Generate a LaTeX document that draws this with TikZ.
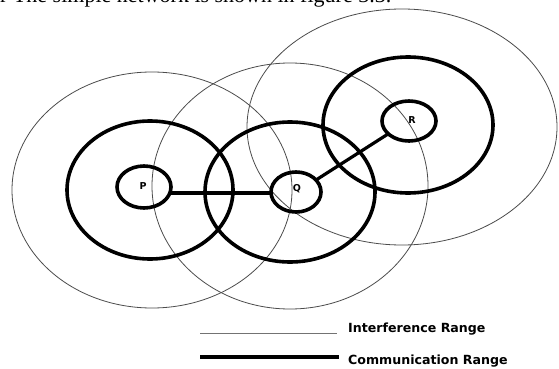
\documentclass[tikz,border=0pt]{standalone}
\usepackage{fontspec}
\setmainfont{Liberation Serif}
\newfontfamily\legfont{DejaVu Sans}
\begin{document}
\begin{tikzpicture}[x=1pt,y=-1pt,
  interf/.style={draw=black!70,line width=0.8pt},
  comm/.style={draw=black,line width=3.6pt},
  lbl/.style={inner sep=0pt,font=\legfont\bfseries\fontsize{9.5}{9.5}\selectfont},
  link/.style={draw=black,line width=3.2pt},
  legtext/.style={anchor=west,font=\legfont\bfseries\fontsize{12.6}{12.6}\selectfont,inner sep=0pt}]
\useasboundingbox (0,0) rectangle (559,369);
\fill[white] (0,0) rectangle (559,369);
% clipped caption text at top
\node[anchor=base west,inner sep=0pt,font=\fontsize{22}{22}\selectfont] (cap) at (0,3) {r The simple network is shown in figure 3.3.};
% interference ranges
\draw[interf] (152,190) ellipse [x radius=140,y radius=118];
\draw[interf] (290,186) ellipse [x radius=138,y radius=123];
\draw[interf] (402,127) ellipse [x radius=155,y radius=118];
% communication ranges
\draw[comm] (150,190) ellipse [x radius=83,y radius=69];
\draw[comm] (290,192) ellipse [x radius=85,y radius=70];
\draw[comm] (408,125) ellipse [x radius=85,y radius=68];
% nodes
\draw[comm] (144,187) ellipse [x radius=27,y radius=21];
\draw[comm] (296,192) ellipse [x radius=25,y radius=20];
\draw[comm] (409,121) ellipse [x radius=27,y radius=20];
\node[lbl] (P) at (143,186) {P};
\node[lbl] (Q) at (297,189) {Q};
\node[lbl] (R) at (412,120) {R};
\coordinate (pe) at (171,193);
\coordinate (qw) at (271,193);
\coordinate (qne) at (316,180);
\coordinate (rsw) at (388,134);
\draw[link] (pe) -- (qw);
\draw[link] (qne) -- (rsw);
% legend
\coordinate (l1a) at (200,333);
\coordinate (l1b) at (337,333);
\coordinate (l2a) at (200,357);
\coordinate (l2b) at (339,357);
\draw[draw=black!55,line width=0.9pt] (l1a) -- (l1b);
\draw[draw=black,line width=4pt] (l2a) -- (l2b);
\node[legtext] (t1) at (348,329) {Interference Range};
\node[legtext] (t2) at (348,361) {Communication Range};
\end{tikzpicture}
\end{document}
